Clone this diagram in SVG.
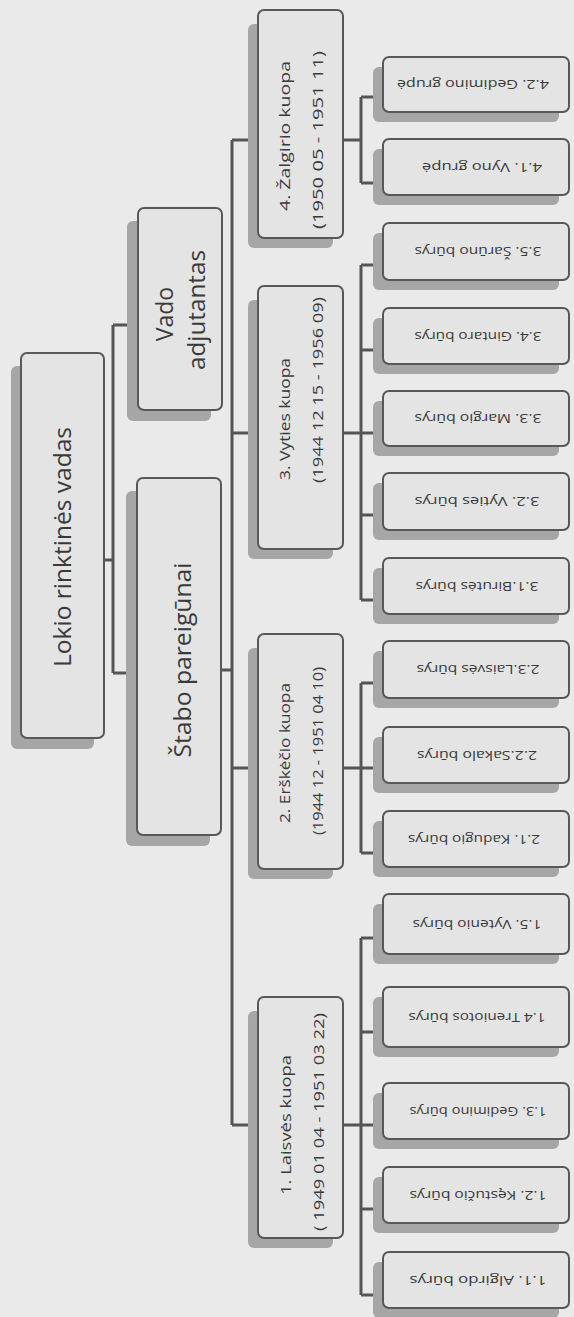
<svg xmlns="http://www.w3.org/2000/svg" width="574" height="1317" viewBox="0 0 574 1317">
<style>
.bg{fill:#eaeaea}
.box{fill:#e4e4e4;stroke:#585858;stroke-width:2}
.sh{fill:#a6a6a6}
.ln{stroke:#555;stroke-width:3;fill:none;stroke-linejoin:miter}
.t{font-family:"Open Sans","Liberation Sans",sans-serif;fill:#3a3a3a;text-anchor:middle;dominant-baseline:central}
.big{font-size:23px}
.mid{font-size:15px}
.sm{font-size:12.5px}
</style>
<rect class="bg" x="0" y="0" width="574" height="1317"/>

<g id="connectors">
<path class="ln" d="M104,560 H113 M113,325 V673 M113,325 H127 M113,673 H126"/>
<path class="ln" d="M221,670 H232 M232,140 V1125 M232,140 H248 M232,433 H248 M232,768 H248 M232,1125 H248"/>
<path class="ln" d="M343,140 H361 M361,97 V183 M361,97 H373 M361,183 H373"/>
<path class="ln" d="M343,433 H361 M361,265 V600 M361,265 H373 M361,350 H373 M361,433 H373 M361,515 H373 M361,600 H373"/>
<path class="ln" d="M343,768 H361 M361,683 V853 M361,683 H373 M361,768 H373 M361,853 H373"/>
<path class="ln" d="M343,1125 H361 M361,938 V1295 M361,938 H373 M361,1032 H373 M361,1125 H373 M361,1209 H373 M361,1295 H373"/>
</g>

<g id="root">
<rect class="sh" x="11" y="366" width="83" height="383" rx="6"/>
<rect class="box" x="21" y="353" width="83" height="385" rx="6"/>
<text class="t big" transform="translate(62,547) rotate(-90)" textLength="240" lengthAdjust="spacingAndGlyphs">Lokio rinktinės vadas</text>
</g>

<g id="vado">
<rect class="sh" x="127" y="221" width="84" height="200" rx="6"/>
<rect class="box" x="138" y="208" width="84" height="202" rx="6"/>
<text class="t big" transform="translate(164,314) rotate(-90)">Vado</text>
<text class="t big" transform="translate(196,310) rotate(-90)" textLength="120" lengthAdjust="spacingAndGlyphs">adjutantas</text>
</g>

<g id="stabo">
<rect class="sh" x="126" y="491" width="84" height="355" rx="6"/>
<rect class="box" x="137" y="478" width="84" height="357" rx="6"/>
<text class="t big" transform="translate(182,660) rotate(-90)" textLength="195" lengthAdjust="spacingAndGlyphs">Štabo pareigūnai</text>
</g>

<g id="kuopa4">
<rect class="sh" x="248" y="24" width="85" height="224" rx="6"/>
<rect class="box" x="258" y="10" width="85" height="228" rx="6"/>
<text class="t mid" transform="translate(284,136) rotate(-90)" textLength="150" lengthAdjust="spacingAndGlyphs">4. Žalgirio kuopa</text>
<text class="t mid" transform="translate(317,140) rotate(-90)" textLength="178" lengthAdjust="spacingAndGlyphs">(1950 05 - 1951 11)</text>
</g>

<g id="kuopa3">
<rect class="sh" x="248" y="300" width="85" height="259" rx="6"/>
<rect class="box" x="258" y="286" width="85" height="263" rx="6"/>
<text class="t mid" transform="translate(284,419) rotate(-90)" textLength="122" lengthAdjust="spacingAndGlyphs">3. Vyties kuopa</text>
<text class="t mid" transform="translate(317,390) rotate(-90)" textLength="186" lengthAdjust="spacingAndGlyphs">(1944 12 15 - 1956 09)</text>
</g>

<g id="kuopa2">
<rect class="sh" x="248" y="648" width="85" height="231" rx="6"/>
<rect class="box" x="258" y="634" width="85" height="235" rx="6"/>
<text class="t mid" transform="translate(284,753) rotate(-90)" textLength="140" lengthAdjust="spacingAndGlyphs">2. Erškėčio kuopa</text>
<text class="t mid" transform="translate(317,751) rotate(-90)" textLength="168" lengthAdjust="spacingAndGlyphs">(1944 12 - 1951 04 10)</text>
</g>

<g id="kuopa1">
<rect class="sh" x="248" y="1011" width="85" height="237" rx="6"/>
<rect class="box" x="258" y="997" width="85" height="241" rx="6"/>
<text class="t mid" transform="translate(285,1125) rotate(-90)" textLength="140" lengthAdjust="spacingAndGlyphs">1. Laisvės kuopa</text>
<text class="t mid" transform="translate(318,1122) rotate(-90)" textLength="218" lengthAdjust="spacingAndGlyphs">( 1949 01 04 - 1951 03 22)</text>
</g>

<g id="b42"><rect class="sh" x="373" y="67" width="186" height="55" rx="6"/><rect class="box" x="383" y="57" width="186" height="55" rx="6"/><text class="t sm" transform="translate(473,84.5) rotate(180)" textLength="152" lengthAdjust="spacingAndGlyphs">4.2. Gedimino grupė</text></g>
<g id="b41"><rect class="sh" x="373" y="149" width="186" height="56" rx="6"/><rect class="box" x="383" y="139" width="186" height="56" rx="6"/><text class="t sm" transform="translate(482,167) rotate(180)" textLength="120" lengthAdjust="spacingAndGlyphs">4.1. Vyno grupė</text></g>
<g id="b35"><rect class="sh" x="373" y="233" width="186" height="57" rx="6"/><rect class="box" x="383" y="223" width="186" height="57" rx="6"/><text class="t sm" transform="translate(478,251.5) rotate(180)" textLength="127" lengthAdjust="spacingAndGlyphs">3.5. Šarūno būrys</text></g>
<g id="b34"><rect class="sh" x="373" y="318" width="186" height="56" rx="6"/><rect class="box" x="383" y="308" width="186" height="56" rx="6"/><text class="t sm" transform="translate(478,336) rotate(180)" textLength="127" lengthAdjust="spacingAndGlyphs">3.4. Gintaro būrys</text></g>
<g id="b33"><rect class="sh" x="373" y="401" width="186" height="55" rx="6"/><rect class="box" x="383" y="391" width="186" height="55" rx="6"/><text class="t sm" transform="translate(478,418.5) rotate(180)" textLength="127" lengthAdjust="spacingAndGlyphs">3.3. Margio būrys</text></g>
<g id="b32"><rect class="sh" x="373" y="483" width="186" height="57" rx="6"/><rect class="box" x="383" y="473" width="186" height="57" rx="6"/><text class="t sm" transform="translate(477,501.5) rotate(180)" textLength="125" lengthAdjust="spacingAndGlyphs">3.2. Vyties būrys</text></g>
<g id="b31"><rect class="sh" x="373" y="568" width="186" height="56" rx="6"/><rect class="box" x="383" y="558" width="186" height="56" rx="6"/><text class="t sm" transform="translate(477,586) rotate(180)" textLength="123" lengthAdjust="spacingAndGlyphs">3.1.Birutės būrys</text></g>
<g id="b23"><rect class="sh" x="373" y="651" width="186" height="57" rx="6"/><rect class="box" x="383" y="641" width="186" height="57" rx="6"/><text class="t sm" transform="translate(478,669.5) rotate(180)" textLength="123" lengthAdjust="spacingAndGlyphs">2.3.Laisvės būrys</text></g>
<g id="b22"><rect class="sh" x="373" y="737" width="186" height="56" rx="6"/><rect class="box" x="383" y="727" width="186" height="56" rx="6"/><text class="t sm" transform="translate(477,755) rotate(180)" textLength="120" lengthAdjust="spacingAndGlyphs">2.2.Sakalo būrys</text></g>
<g id="b21"><rect class="sh" x="373" y="821" width="186" height="56" rx="6"/><rect class="box" x="383" y="811" width="186" height="56" rx="6"/><text class="t sm" transform="translate(474,839) rotate(180)" textLength="132" lengthAdjust="spacingAndGlyphs">2.1. Kadugio būrys</text></g>
<g id="b15"><rect class="sh" x="373" y="904" width="186" height="60" rx="6"/><rect class="box" x="383" y="894" width="186" height="60" rx="6"/><text class="t sm" transform="translate(477,924) rotate(180)" textLength="129" lengthAdjust="spacingAndGlyphs">1.5. Vytenio būrys</text></g>
<g id="b14"><rect class="sh" x="373" y="997" width="186" height="60" rx="6"/><rect class="box" x="383" y="987" width="186" height="60" rx="6"/><text class="t sm" transform="translate(477,1017) rotate(180)" textLength="137" lengthAdjust="spacingAndGlyphs">1.4 Treniotos būrys</text></g>
<g id="b13"><rect class="sh" x="373" y="1093" width="186" height="56" rx="6"/><rect class="box" x="383" y="1083" width="186" height="56" rx="6"/><text class="t sm" transform="translate(478,1111) rotate(180)" textLength="137" lengthAdjust="spacingAndGlyphs">1.3. Gedimino būrys</text></g>
<g id="b12"><rect class="sh" x="373" y="1177" width="186" height="56" rx="6"/><rect class="box" x="383" y="1167" width="186" height="56" rx="6"/><text class="t sm" transform="translate(478,1195) rotate(180)" textLength="137" lengthAdjust="spacingAndGlyphs">1.2. Kęstučio būrys</text></g>
<g id="b11"><rect class="sh" x="373" y="1262" width="186" height="56" rx="6"/><rect class="box" x="383" y="1252" width="186" height="56" rx="6"/><text class="t sm" transform="translate(478,1280) rotate(180)" textLength="137" lengthAdjust="spacingAndGlyphs">1.1. Algirdo būrys</text></g>
</svg>
